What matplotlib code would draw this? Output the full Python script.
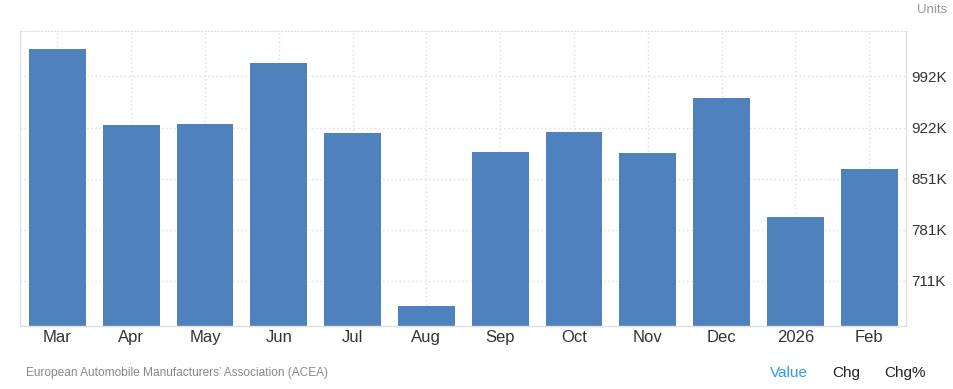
import numpy as np
import matplotlib.pyplot as plt

# monthly values (thousand units)
months = ["Mar", "Apr", "May", "Jun", "Jul", "Aug", "Sep", "Oct", "Nov", "Dec", "2026", "Feb"]
values = [1029.6, 924.8, 926.5, 1010.3, 914.0, 676.0, 888.0, 915.5, 886.6, 962.0, 799.0, 864.8]
ytick_vals = [710.75, 781.0, 851.25, 921.5, 991.75]
ytick_labels = ["711K", "781K", "851K", "922K", "992K"]

plt.rcParams['font.family'] = ['Liberation Sans', 'DejaVu Sans']

fig = plt.figure(figsize=(9.54, 3.89), dpi=100)
ax = fig.add_axes([20.5 / 954, 1 - 326 / 389, (906 - 20.5) / 954, (326 - 30.5) / 389])

x = np.arange(len(months))
ax.bar(x, values, width=0.77, color="#4f81bd", zorder=2)

ax.set_xlim(-0.5, len(months) - 0.5)
ax.set_ylim(648.6, 1055)

ax.set_xticks(x)
ax.set_xticklabels(months, fontsize=12, color="#333333")
ax.set_yticks(ytick_vals)
ax.set_yticklabels(ytick_labels, fontsize=11, color="#333333")
ax.yaxis.tick_right()
ax.tick_params(axis="both", length=0)
ax.tick_params(axis="x", pad=3)
ax.tick_params(axis="y", pad=4)

ax.grid(True, linestyle=(0, (1, 2)), color="#dddddd", linewidth=1, zorder=0)

for side in ["left", "right", "bottom"]:
    ax.spines[side].set_color("#e0e0e0")
    ax.spines[side].set_linewidth(1)
ax.spines["top"].set_color("#dddddd")
ax.spines["top"].set_linestyle((0, (1, 2)))

fig.text(947 / 954, 1 - 10 / 389, "Units", ha="right", va="center", fontsize=9.5, color="#999999")
fig.text(26 / 954, 1 - 373 / 389, "European Automobile Manufacturers\u2019 Association (ACEA)",
         ha="left", va="center", fontsize=8.6, color="#888888")
fig.text(770 / 954, 1 - 373 / 389, "Value", ha="left", va="center", fontsize=11, color="#2d9cf0")
fig.text(832 / 954, 1 - 373 / 389, "Chg", ha="left", va="center", fontsize=11, color="#222222")
fig.text(884 / 954, 1 - 373 / 389, "Chg%", ha="left", va="center", fontsize=11, color="#222222")

fig.savefig("out.png", dpi=100)
